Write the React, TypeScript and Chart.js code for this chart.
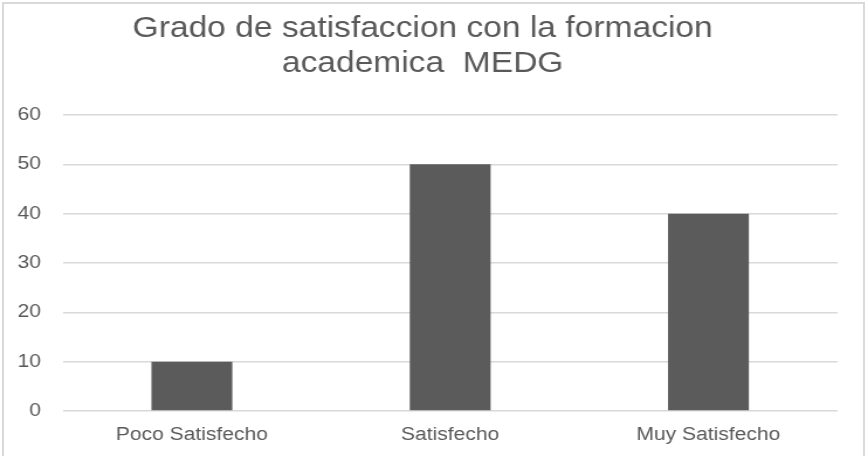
import React, { useEffect, useRef } from "react";
import { Chart, registerables } from "chart.js";

Chart.register(...registerables);

const titleLines = ["Grado de satisfaccion con la formacion", "academica  MEDG"];
const categories = ["Poco Satisfecho", "Satisfecho", "Muy Satisfecho"];
const values = [10, 50, 40];
const yTicks = [0, 10, 20, 30, 40, 50, 60];

const STRETCH = 1.17;
const W = 868;
const H = 456;
const CW = Math.round(W / STRETCH);

export default function App() {
  const ref = useRef<HTMLCanvasElement>(null);
  useEffect(() => {
    if (!ref.current) return;
    const chart = new Chart(ref.current, {
      type: "bar",
      data: {
        labels: categories,
        datasets: [
          {
            data: values,
            backgroundColor: "#5b5b5b",
            barPercentage: 0.313,
            categoryPercentage: 1,
          },
        ],
      },
      options: {
        animation: false,
        responsive: false,
        devicePixelRatio: 1,
        layout: { padding: { left: -3.4, right: 16, top: 6, bottom: -3 } },
        plugins: {
          legend: { display: false },
          tooltip: { enabled: false },
          title: {
            display: true,
            text: titleLines,
            color: "#595959",
            font: { family: "Liberation Sans, Arial", size: 28.7, weight: "normal", lineHeight: 1.22 },
            padding: { top: 6, bottom: 33 },
          },
        },
        scales: {
          x: {
            grid: { display: false, drawTicks: false },
            border: { display: false },
            ticks: {
              color: "#595959",
              font: { family: "Liberation Sans, Arial", size: 18, lineHeight: 1.0 },
              padding: 15,
            },
          },
          y: {
            min: 0,
            max: 60,
            afterBuildTicks: (axis: any) => {
              axis.ticks = yTicks.map((v) => ({ value: v }));
            },
            grid: { color: "#d9d9d9", lineWidth: 1.5, drawTicks: false },
            border: { display: false },
            ticks: { color: "#595959", font: { family: "Liberation Sans, Arial", size: 18 }, padding: 18.5 },
          },
          y2: {
            type: "linear",
            position: "right",
            display: true,
            grid: { display: false, drawTicks: false },
            border: { display: false },
            ticks: { display: false },
            afterFit: (s: any) => {
              s.width = 10;
            },
          },
        },
      },
    });
    return () => chart.destroy();
  }, []);
  return (
    <div style={{ position: "fixed", left: 0, top: 0, width: W, height: H, background: "#fff", overflow: "hidden" }}>
      <div
        style={{
          position: "absolute",
          left: 2,
          top: 2,
          width: 863,
          height: 470,
          border: "2px solid #d9d9d9",
          boxSizing: "border-box",
        }}
      />
      <canvas
        ref={ref}
        width={CW}
        height={H}
        style={{ position: "absolute", left: 0, top: 0, width: W, height: H }}
      />
    </div>
  );
}
